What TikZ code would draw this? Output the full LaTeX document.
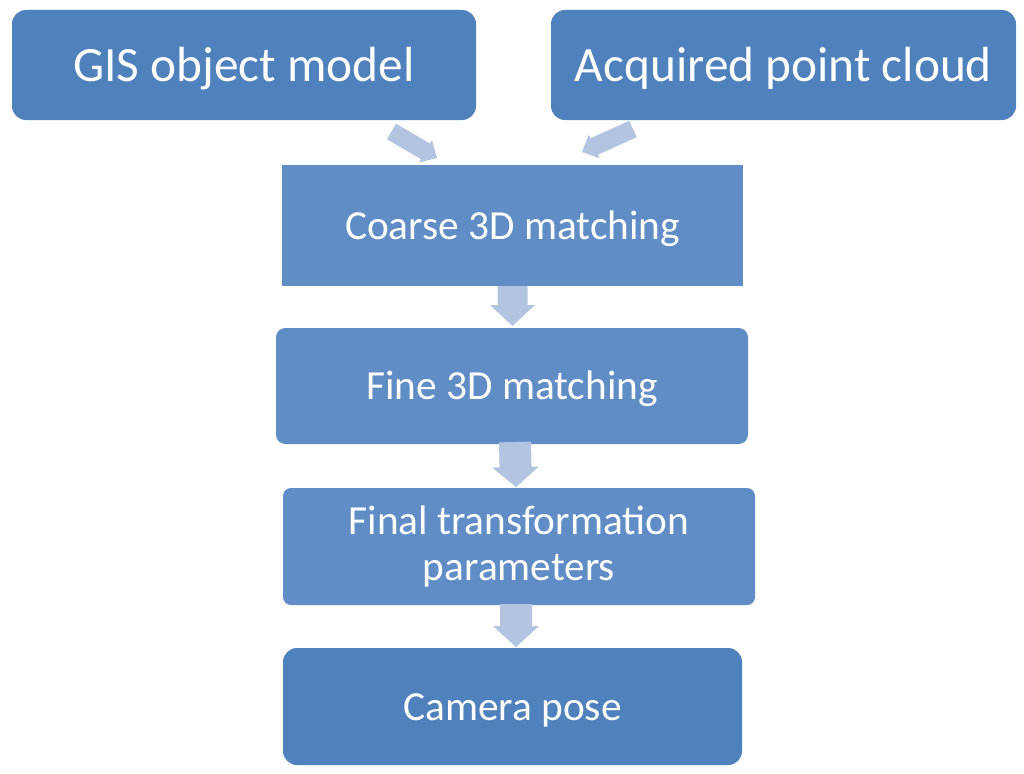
\documentclass[tikz,border=0pt]{standalone}
\usepackage{fontspec}
\setmainfont{Carlito}
\usetikzlibrary{calc}
\definecolor{boxdark}{RGB}{79,129,189}
\definecolor{boxmid}{RGB}{96,141,198}
\definecolor{arrowfill}{RGB}{178,196,223}
\newcommand{\blockarrow}[5]{%
  \fill[arrowfill] ($(#1)!#3!90:(#2)$) -- ($($(#2)!#5!(#1)$)!#3!-90:(#1)$)
    -- ($($(#2)!#5!(#1)$)!#4!-90:(#1)$) -- (#2)
    -- ($($(#2)!#5!(#1)$)!#4!90:(#1)$) -- ($($(#2)!#5!(#1)$)!#3!90:(#1)$)
    -- ($(#1)!#3!-90:(#2)$) -- cycle;}
\newcommand{\oneline}[1]{\raisebox{-0.33em}[0pt][0pt]{#1}}
\begin{document}
\begin{tikzpicture}[x=0.75pt,y=-0.75pt,
  box/.style={fill=#1, text=white, inner sep=0pt, align=center},
  topbox/.style={box=boxdark, rounded corners=10.5pt, font=\fontsize{37}{40}\selectfont},
  midbox/.style={box=boxmid, font=\fontsize{31}{34}\selectfont}]
\useasboundingbox (0,0) rectangle (1024,774);
\node[topbox, minimum width=464*0.75pt, minimum height=110*0.75pt] (gis) at (244,65) {\oneline{GIS object model}};
\node[topbox, minimum width=465*0.75pt, minimum height=110*0.75pt] (acq) at (783.5,65) {\oneline{Acquired point cloud}};
\node[midbox, minimum width=461*0.75pt, minimum height=121*0.75pt] (coarse) at (512.5,225.5) {\oneline{Coarse 3D matching}};
\node[midbox, rounded corners=7pt, minimum width=472*0.75pt, minimum height=116*0.75pt] (fine) at (512,386) {\oneline{Fine 3D matching}};
\node[midbox, rounded corners=6pt, minimum width=472*0.75pt, minimum height=117*0.75pt] (final) at (519,546.5) {Final transformation\\parameters};
\node[box=boxdark, rounded corners=10.5pt, font=\fontsize{31}{34}\selectfont, minimum width=459*0.75pt, minimum height=117*0.75pt] (camera) at (512.5,706.5) {\oneline{Camera pose}};
% arrow end points
\coordinate (a1s) at (391.5,131.5); \coordinate (a1e) at (437,158);
\coordinate (a2s) at (633,129);   \coordinate (a2e) at (582,152);
\coordinate (a3s) at (512.5,286); \coordinate (a3e) at (512.5,326);
\coordinate (a4s) at (515,442);   \coordinate (a4e) at (516,487);
\coordinate (a5s) at (516,604);   \coordinate (a5e) at (516,647);
\blockarrow{a1s}{a1e}{6.75pt}{9.75pt}{10pt}
\blockarrow{a2s}{a2e}{6.75pt}{9.75pt}{10pt}
\blockarrow{a3s}{a3e}{11.25pt}{16.9pt}{15.75pt}
\blockarrow{a4s}{a4e}{12pt}{17.6pt}{15pt}
\blockarrow{a5s}{a5e}{12pt}{17.25pt}{15.75pt}
\end{tikzpicture}
\end{document}
